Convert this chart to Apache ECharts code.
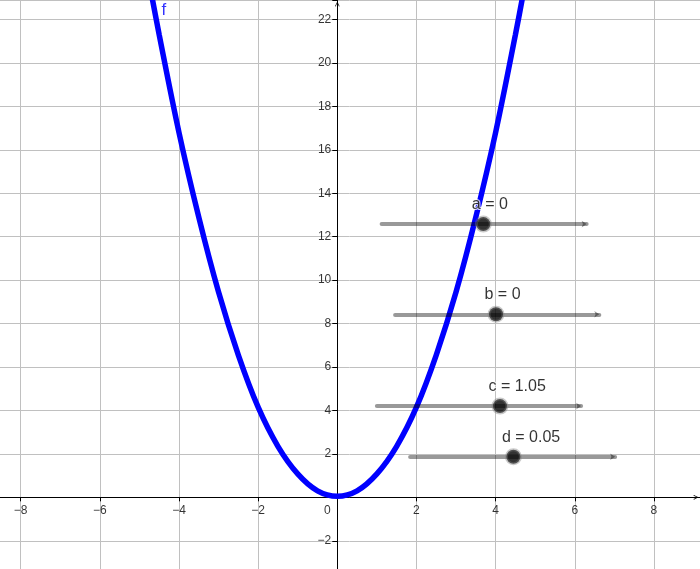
<!DOCTYPE HTML>
<html><head>
<meta charset="utf-8">
<title>f</title>
<script src="https://cdn.jsdelivr.net/npm/echarts@6/dist/echarts.min.js"></script>
<style>
html, body { margin: 0; padding: 0; background: #fff; }
#main { width: 700px; height: 569px; }
</style>
</head>
<body>
<div id="main"></div>
<script type="text/javascript">
// curve f, points
var curveX = [-4.75, -4.5, -4, -3.5, -3, -2.5, -2, -1.5, -1, -0.5, 0, 0.5, 1, 1.5, 2, 2.5, 3, 3.5, 4, 4.5, 4.75];
var curveY = [23.7, 21.3, 16.8, 12.9, 9.45, 6.55, 4.15, 2.35, 1.08, 0.3, 0.05, 0.3, 1.08, 2.35, 4.15, 6.55, 9.45, 12.9, 16.8, 21.3, 23.7];

// sliders a, b, c, d
var sliderNames = ['a', 'b', 'c', 'd'];
var sliderValues = ['0', '0', '1.05', '0.05'];
var sliderStartX = [1.12, 1.46, 1.00, 1.84];
var sliderEndX = [6.30, 6.62, 6.16, 7.02];
var sliderY = [12.58, 8.43, 4.20, 1.87];
var knobX = [3.69, 4.01, 4.11, 4.45];

// tick labels
var xTicks = [-8, -6, -4, -2, 0, 2, 4, 6, 8];
var yTicks = [-2, 2, 4, 6, 8, 10, 12, 14, 16, 18, 20, 22];

// name of the curve
var curveName = 'f';
var curveNamePos = [-4.38, 22.41];

var font = 'Liberation Sans, Arial, sans-serif';
var chevron = 'path://M0,10 L5,0 L10,10 L8.6,10.8 L5,2.9 L1.4,10.8 Z';

function minus(v) {
    return String(v).replace('-', '\u2212');
}

var curveData = curveX.map(function (x, i) { return [x, curveY[i]]; });
var sliderData = sliderNames.map(function (n, i) {
    return { coords: [[sliderStartX[i], sliderY[i]], [sliderEndX[i], sliderY[i]]] };
});
var knobData = sliderNames.map(function (n, i) {
    return { name: n + ' = ' + sliderValues[i], value: [knobX[i], sliderY[i]] };
});
// the axes keep their labels at the grid edge, so the tick labels
// ride on the zero lines as label-only points
var xLabelData = xTicks.map(function (t) {
    return {
        name: minus(t),
        value: [t, 0],
        label: { offset: [t === 0 ? -10 : 0, 0] }
    };
});
var yLabelData = yTicks.map(function (t) {
    return { name: minus(t), value: [0, t] };
});

var myChart = echarts.init(document.getElementById('main'), null, { renderer: 'canvas' });

var tickLabel = {
    show: true,
    formatter: '{b}',
    color: '#000',
    fontSize: 12,
    fontFamily: font
};

option = {
    backgroundColor: '#ffffff',
    animation: false,
    grid: {
        left: -58.5,
        right: 0,
        top: 0,
        bottom: -15.2,
        containLabel: false,
        outerBoundsMode: 'none'
    },
    xAxis: {
        type: 'value',
        min: -10,
        max: 9.164,
        interval: 2,
        axisLine: {
            onZero: true,
            lineStyle: { color: '#000', width: 1 },
            symbol: ['none', chevron],
            symbolSize: [8, 5],
            symbolOffset: [0, -4]
        },
        axisTick: { show: true, length: 4, lineStyle: { color: '#000' } },
        axisLabel: { show: false },
        splitLine: { show: true, lineStyle: { color: '#c0c0c0', width: 1 } }
    },
    yAxis: {
        type: 'value',
        min: -4,
        max: 22.9,
        interval: 2,
        axisLine: {
            onZero: true,
            lineStyle: { color: '#000', width: 1 },
            symbol: ['none', chevron],
            symbolSize: [8, 5],
            symbolOffset: [0, -4]
        },
        axisTick: { show: true, length: 5, lineStyle: { color: '#000' } },
        axisLabel: { show: false },
        splitLine: { show: true, lineStyle: { color: '#c0c0c0', width: 1 } }
    },
    series: [
        {
            name: curveName,
            type: 'line',
            data: curveData,
            smooth: 0.35,
            showSymbol: false,
            clip: true,
            lineStyle: { color: '#0000ff', width: 5.5 },
            z: 3
        },
        {
            type: 'scatter',
            data: xLabelData,
            symbolSize: 0,
            silent: true,
            label: Object.assign({}, tickLabel, { position: 'bottom', distance: 7 }),
            z: 2
        },
        {
            type: 'scatter',
            data: yLabelData,
            symbolSize: 0,
            silent: true,
            label: Object.assign({}, tickLabel, { position: 'left', distance: 6 }),
            z: 2
        },
        {
            type: 'scatter',
            data: [curveNamePos],
            symbolSize: 0,
            label: {
                show: true,
                position: 'inside',
                formatter: curveName,
                color: '#0000ff',
                fontSize: 17,
                fontFamily: font
            },
            z: 4
        },
        {
            type: 'lines',
            coordinateSystem: 'cartesian2d',
            data: sliderData,
            symbol: ['none', 'arrow'],
            symbolSize: 5,
            lineStyle: { color: 'rgba(0,0,0,0.4)', width: 4, cap: 'round', opacity: 1 },
            z: 5
        },
        {
            type: 'scatter',
            data: knobData,
            symbolSize: 14,
            itemStyle: {
                color: '#000',
                borderColor: 'rgba(120,120,120,0.5)',
                borderWidth: 3
            },
            label: {
                show: true,
                position: 'top',
                align: 'left',
                offset: [-11.5, 2],
                formatter: '{b}',
                color: '#000',
                fontSize: 16,
                fontFamily: font,
                textBorderColor: '#fff',
                textBorderWidth: 2
            },
            z: 6
        }
    ]
};

myChart.setOption(option);
</script>
</body>
</html>
